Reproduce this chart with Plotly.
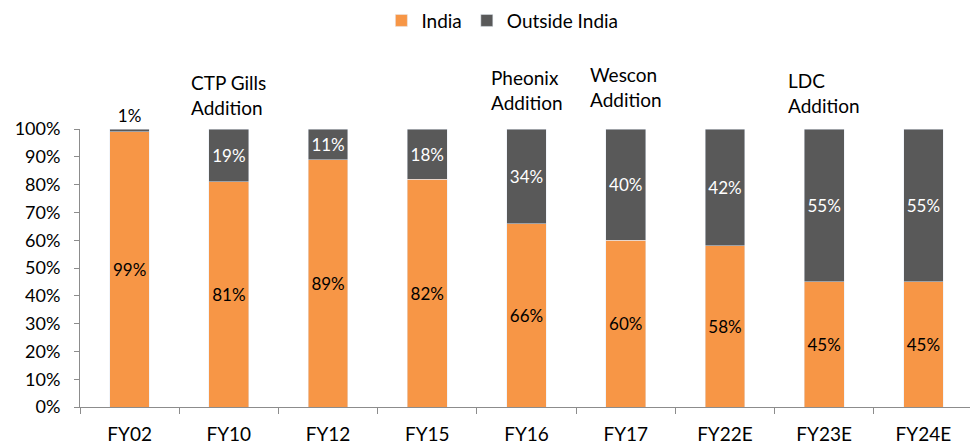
import plotly.graph_objects as go

categories = ["FY02", "FY10", "FY12", "FY15", "FY16", "FY17", "FY22E", "FY23E", "FY24E"]
india = [99, 81, 89, 82, 66, 60, 58, 45, 45]
outside = [1, 19, 11, 18, 34, 40, 42, 55, 55]
notes = {"FY10": "CTP Gills<br>Addition", "FY16": "Pheonix<br>Addition",
         "FY17": "Wescon<br>Addition", "FY23E": "LDC<br>Addition"}
note_y = {"FY10": 1.122, "FY16": 1.14, "FY17": 1.151, "FY23E": 1.13}

india_col = "#F79646"
outside_col = "#595959"
axis_col = "#8C8C8C"
font_fam = "Lato, 'Open Sans', sans-serif"

fig = go.Figure()

fig.add_trace(go.Bar(
    x=categories, y=[v / 100 for v in india], name="India",
    marker=dict(color=india_col),
    text=[f"{v}%" for v in india], textposition="inside",
    insidetextanchor="middle", textfont=dict(size=17, color="black"),
    width=0.4,
))

fig.add_trace(go.Bar(
    x=categories, y=[v / 100 for v in outside], name="Outside India",
    marker=dict(color=outside_col),
    text=[f"{v}%" for v in outside],
    textposition=["outside" if v < 5 else "inside" for v in outside],
    insidetextanchor="middle",
    textfont=dict(size=17, color=["black" if v < 5 else "white" for v in outside]),
    cliponaxis=False, width=0.4,
))

for cat, txt in notes.items():
    fig.add_annotation(x=cat, y=note_y[cat], xref="x", yref="paper", text=txt,
                       showarrow=False, align="left", xanchor="center", yanchor="middle",
                       font=dict(size=19, color="black"))

# page body has an 8px margin, so the figure is a bit smaller than the window
fig.update_layout(
    barmode="stack",
    width=970, height=438,
    margin=dict(l=72, r=5, t=121, b=39, autoexpand=False),
    plot_bgcolor="white", paper_bgcolor="white",
    font=dict(family=font_fam, color="black", size=19),
    legend=dict(orientation="h", x=0.473, xanchor="center", y=1.39, yref="paper",
                yanchor="middle", font=dict(size=19), itemwidth=30, traceorder="normal"),
    uniformtext=dict(minsize=17, mode="show"),
)

fig.update_xaxes(
    showline=True, linecolor=axis_col, linewidth=1, automargin=False,
    ticks="outside", tickson="boundaries", ticklen=6, tickcolor=axis_col,
    tickfont=dict(size=19), ticklabelstandoff=10,
)
fig.update_yaxes(
    range=[0, 1], dtick=0.1, tickformat=".0%", automargin=False,
    showline=True, linecolor=axis_col, linewidth=1,
    ticks="outside", ticklen=5, tickcolor=axis_col,
    showgrid=False, zeroline=False, tickfont=dict(size=18), ticklabelstandoff=10,
)

fig.write_html("out.html")
